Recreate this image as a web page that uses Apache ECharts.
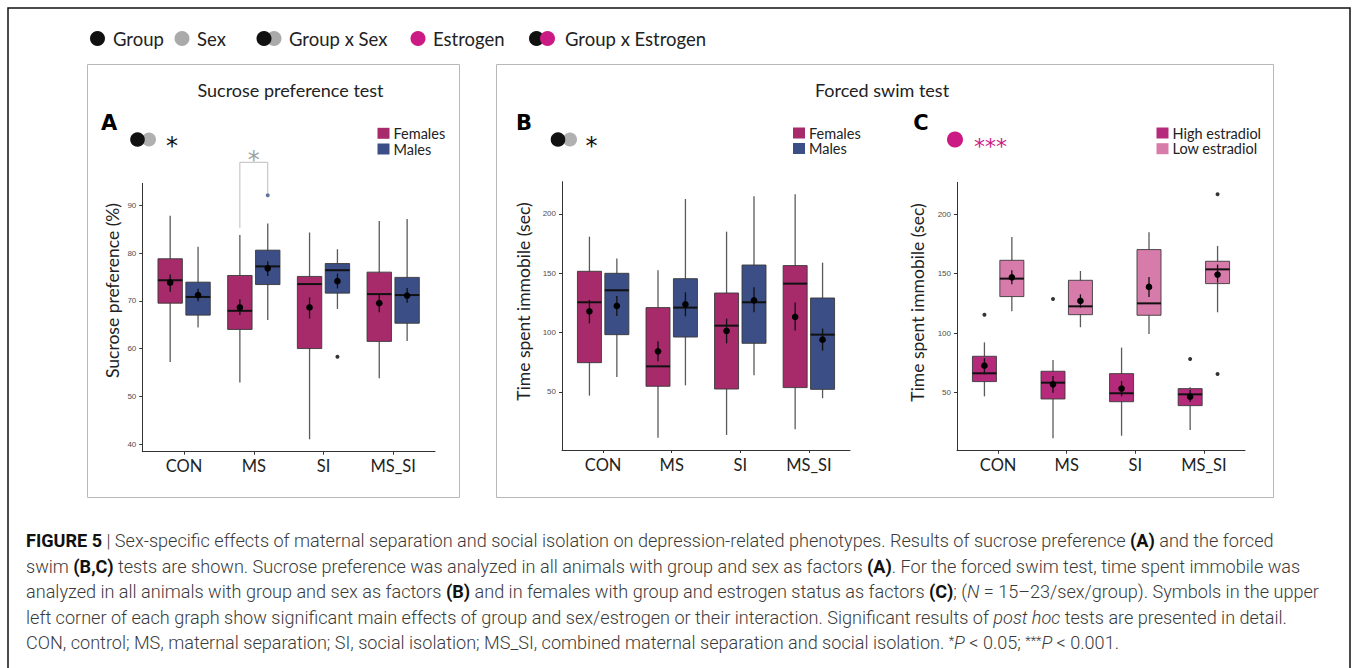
<!DOCTYPE html>
<html><head><meta charset="utf-8">
<script src="https://cdn.jsdelivr.net/npm/echarts@6/dist/echarts.min.js"></script>
<style>html,body{margin:0;padding:0;background:#fff;}#c{width:1354px;height:668px;}</style>
</head><body><div id="c"></div>
<script>
const categories = ['CON', 'MS', 'SI', 'MS_SI'];
const sucroseTicks = [40, 50, 60, 70, 80, 90];
const swimTicks = [50, 100, 150, 200];

// Box statistics: [lower whisker, Q1, median, Q3, upper whisker]
const sucroseFemales = [[57.2, 69.5, 74.3, 78.8, 87.8], [52.9, 64.0, 67.9, 75.3, 83.8], [41.0, 60.0, 73.5, 75.1, 84.3], [53.8, 61.5, 71.4, 76.0, 86.7]];
const sucroseMales   = [[64.4, 67.0, 70.8, 73.9, 81.3], [66.0, 73.4, 77.2, 80.6, 86.2], [68.3, 71.6, 76.4, 77.8, 80.8], [61.6, 65.3, 71.2, 74.9, 87.1]];
// Mean with error bar: [mean, lower, upper]
const sucroseFemalesMean = [[73.8, 71.9, 75.5], [68.6, 67.0, 70.3], [68.6, 66.3, 70.7], [69.5, 67.6, 71.4]];
const sucroseMalesMean   = [[71.2, 69.9, 72.5], [76.8, 75.2, 78.3], [74.1, 72.6, 75.7], [71.1, 69.6, 72.7]];
const sucroseMalesOutliers = [['MS', 92.1], ['SI', 58.3]];
// post hoc bracket MS females vs males: [left end, top, right end]
const sucroseBracket = [85.2, 99.0, 92.5];

const swimFemales = [[46.9, 74.7, 125.6, 151.7, 180.9], [11.5, 54.8, 71.6, 121.1, 152.5], [13.8, 52.5, 105.9, 133.4, 185.1], [18.5, 53.7, 141.3, 156.5, 216.6]];
const swimMales   = [[62.6, 98.3, 135.7, 150.0, 162.4], [55.6, 96.3, 121.1, 145.5, 212.6], [64.0, 91.0, 125.6, 157.0, 214.9], [44.7, 52.2, 98.3, 129.2, 159.0]];
const swimFemalesMean = [[118.0, 107.9, 127.5], [84.3, 75.8, 92.7], [101.4, 91.0, 111.8], [113.2, 101.7, 125.3]];
const swimMalesMean   = [[122.5, 114.0, 130.9], [123.9, 113.8, 134.0], [127.2, 117.1, 138.2], [94.1, 84.8, 103.4]];

const swimHigh = [[46.9, 59.3, 66.3, 80.6, 92.3], [11.6, 44.7, 58.4, 68.0, 77.5], [13.8, 42.4, 49.5, 66.0, 87.9], [18.6, 39.1, 48.6, 53.4, 54.5]];
const swimLow  = [[118.4, 130.8, 145.9, 161.3, 180.9], [105.0, 115.6, 122.6, 144.5, 152.3], [99.4, 115.1, 125.1, 170.3, 184.9], [117.6, 141.7, 153.7, 160.5, 173.4]];
const swimHighMean = [[72.7, 65.5, 79.0], [57.0, 50.0, 64.0], [53.4, 46.9, 59.8], [46.6, 42.3, 52.3]];
const swimLowMean  = [[147.0, 141.1, 152.9], [127.1, 121.5, 132.7], [138.9, 130.5, 147.3], [149.3, 142.5, 157.7]];
const swimHighOutliers = [['CON', 115.6], ['MS', 128.8], ['MS_SI', 78.3]];
const swimLowOutliers  = [['MS_SI', 216.8], ['MS_SI', 65.7]];

// ---------- styling ----------
const FEMALE = '#A72A6B', MALE = '#3B4E86', HIGH = '#B52A7A', LOW = '#D77CAA', ESTRO = '#CC1A85';
const DODGE = 0.2, BOX_W = 0.35;
const UI = 'Lato, "Open Sans", sans-serif';
const STAR = '"DejaVu Sans", sans-serif';

function boxData(arr, off) { return arr.map((s, i) => [i + 1 + off].concat(s)); }
function meanData(arr, off) { return arr.map((s, i) => [i + 1 + off].concat(s)); }
function outData(arr, off) { return arr.map(o => [categories.indexOf(o[0]) + 1 + off, o[1]]); }

function boxRender(color) {
  return function (params, api) {
    const x = api.value(0);
    const lo = api.coord([x, api.value(1)]);
    const q1 = api.coord([x, api.value(2)]);
    const md = api.coord([x, api.value(3)]);
    const q3 = api.coord([x, api.value(4)]);
    const hi = api.coord([x, api.value(5)]);
    const w = api.size([BOX_W, 0])[0];
    const cx = lo[0];
    return { type: 'group', children: [
      { type: 'line', shape: { x1: cx, y1: lo[1], x2: cx, y2: hi[1] }, style: { stroke: '#5a5a5a', lineWidth: 1.3 } },
      { type: 'rect', shape: { x: cx - w / 2, y: q3[1], width: w, height: q1[1] - q3[1] }, style: { fill: color, stroke: '#3a3a3a', lineWidth: 0.9 } },
      { type: 'line', shape: { x1: cx - w / 2, y1: md[1], x2: cx + w / 2, y2: md[1] }, style: { stroke: '#111', lineWidth: 2 } }
    ]};
  };
}
function meanRender(params, api) {
  const x = api.value(0);
  const m = api.coord([x, api.value(1)]);
  const l = api.coord([x, api.value(2)]);
  const h = api.coord([x, api.value(3)]);
  return { type: 'group', children: [
    { type: 'line', shape: { x1: m[0], y1: l[1], x2: m[0], y2: h[1] }, style: { stroke: '#111', lineWidth: 1.3 } },
    { type: 'circle', shape: { cx: m[0], cy: m[1], r: 3.3 }, style: { fill: '#000' } }
  ]};
}
function bracketRender(params, api) {
  const x1 = api.value(0), x2 = api.value(1);
  const a = api.coord([x1, api.value(2)]);
  const t1 = api.coord([x1, api.value(3)]);
  const t2 = api.coord([x2, api.value(3)]);
  const b = api.coord([x2, api.value(4)]);
  return { type: 'group', children: [
    { type: 'polyline', shape: { points: [a, t1, t2, b] }, style: { stroke: '#bdbdbd', lineWidth: 1, fill: 'none' } },
    { type: 'text', x: (t1[0] + t2[0]) / 2, y: t1[1] - 2, style: { text: '*', fill: '#a0a0a0', fontSize: 24, fontFamily: STAR, align: 'center', verticalAlign: 'middle' } }
  ]};
}

function xAxis(gi) {
  return { gridIndex: gi, type: 'value', min: 0.4, max: 4.6,
    splitLine: { show: false },
    axisLine: { show: true, lineStyle: { color: '#333', width: 1 } },
    axisTick: { show: true, customValues: [1, 2, 3, 4], length: 3, lineStyle: { color: '#333' } },
    axisLabel: { show: true, customValues: [1, 2, 3, 4], formatter: v => categories[Math.round(v) - 1], fontSize: 16.5, color: '#222', margin: 6, fontFamily: UI } };
}
function yAxis(gi, min, max, ticks) {
  return { gridIndex: gi, type: 'value', min: min, max: max,
    splitLine: { show: false },
    axisLine: { show: true, lineStyle: { color: '#333', width: 1 } },
    axisTick: { show: true, customValues: ticks, length: 3, lineStyle: { color: '#333' } },
    axisLabel: { show: true, customValues: ticks, fontSize: 8, color: '#4d4d4d', margin: 6, fontFamily: '"Liberation Sans", Arial, sans-serif' } };
}

function boxSeries(gi, arr, off, color) {
  return { type: 'custom', xAxisIndex: gi, yAxisIndex: gi, renderItem: boxRender(color), data: boxData(arr, off), encode: { x: 0, y: [1, 2, 3, 4, 5] }, z: 2, silent: true };
}
function meanSeries(gi, arr, off) {
  return { type: 'custom', xAxisIndex: gi, yAxisIndex: gi, renderItem: meanRender, data: meanData(arr, off), encode: { x: 0, y: [1, 2, 3] }, z: 4, silent: true };
}
function outSeries(gi, arr, off, colors) {
  return { type: 'scatter', xAxisIndex: gi, yAxisIndex: gi, symbolSize: 4, silent: true, z: 3,
    data: outData(arr, off).map((d, i) => ({ value: d, itemStyle: { color: colors[i] || '#000' } })) };
}

const series = [
  boxSeries(0, sucroseFemales, -DODGE, FEMALE), boxSeries(0, sucroseMales, DODGE, MALE),
  meanSeries(0, sucroseFemalesMean, -DODGE), meanSeries(0, sucroseMalesMean, DODGE),
  outSeries(0, sucroseMalesOutliers, DODGE, [MALE, '#000']),
  { type: 'custom', xAxisIndex: 0, yAxisIndex: 0, renderItem: bracketRender, clip: false, silent: true, z: 5,
    data: [[categories.indexOf('MS') + 1 - DODGE, categories.indexOf('MS') + 1 + DODGE].concat(sucroseBracket)], encode: { x: [0, 1], y: [2, 3, 4] } },
  boxSeries(1, swimFemales, -DODGE, FEMALE), boxSeries(1, swimMales, DODGE, MALE),
  meanSeries(1, swimFemalesMean, -DODGE), meanSeries(1, swimMalesMean, DODGE),
  boxSeries(2, swimHigh, -DODGE, HIGH), boxSeries(2, swimLow, DODGE, LOW),
  meanSeries(2, swimHighMean, -DODGE), meanSeries(2, swimLowMean, DODGE),
  outSeries(2, swimHighOutliers, -DODGE, []), outSeries(2, swimLowOutliers, DODGE, [])
];

// ---------- annotations ----------
function txt(x, y, text, size, opts) {
  return Object.assign({ type: 'text', x: x, y: y, silent: true,
    style: Object.assign({ text: text, fontSize: size, fontFamily: UI, fill: '#222', align: 'left', verticalAlign: 'middle' }, (opts && opts.style) || {}) },
    (opts && opts.el) || {});
}
function dot(x, y, r, color) { return { type: 'circle', shape: { cx: x, cy: y, r: r }, style: { fill: color }, silent: true }; }
function sw(x, y, color) { return { type: 'rect', shape: { x: x, y: y - 5.5, width: 12, height: 11 }, style: { fill: color }, silent: true }; }

const graphics = [
  { type: 'rect', shape: { x: 8, y: 8, width: 1342, height: 700 }, style: { fill: 'none', stroke: '#111', lineWidth: 1.5 }, silent: true },
  { type: 'rect', shape: { x: 87.5, y: 64.5, width: 372, height: 433 }, style: { fill: 'none', stroke: '#b8b8b8', lineWidth: 1 }, silent: true },
  { type: 'rect', shape: { x: 496.5, y: 64.5, width: 777, height: 433 }, style: { fill: 'none', stroke: '#b8b8b8', lineWidth: 1 }, silent: true },
  // top legend
  dot(97.5, 38.5, 7.5, '#111'), txt(113, 39, 'Group', 18.5),
  dot(182, 38.5, 7.5, '#aaaaaa'), txt(197, 39, 'Sex', 18.5),
  dot(274, 38.5, 7.5, '#aaaaaa'), dot(264, 38.5, 7.5, '#111'), txt(289, 39, 'Group x Sex', 18.5),
  dot(418, 38.5, 7.5, ESTRO), txt(433, 39, 'Estrogen', 18.5),
  dot(536.5, 38.5, 7.5, '#111'), dot(547.5, 38.5, 7.5, ESTRO), txt(565, 39, 'Group x Estrogen', 18.5),
  // titles
  txt(290.5, 90, 'Sucrose preference test', 18, { style: { align: 'center' } }),
  txt(882, 90, 'Forced swim test', 18, { style: { align: 'center' } }),
  // panel letters
  txt(109, 122.5, 'A', 21, { style: { align: 'center', fontWeight: 900, fontFamily: '"DejaVu Sans", Arial, sans-serif', fill: '#000' } }),
  txt(524, 122.5, 'B', 21, { style: { align: 'center', fontWeight: 900, fontFamily: '"DejaVu Sans", Arial, sans-serif', fill: '#000' } }),
  txt(921, 122.5, 'C', 21, { style: { align: 'center', fontWeight: 900, fontFamily: '"DejaVu Sans", Arial, sans-serif', fill: '#000' } }),
  // significance symbols
  dot(149, 139.5, 7, '#b0b0b0'), dot(137.5, 139.5, 7.3, '#111'), txt(172, 146, '*', 24, { style: { align: 'center', fill: '#111', fontFamily: STAR } }),
  dot(570, 139.5, 7, '#b0b0b0'), dot(558, 139.5, 7.3, '#111'), txt(591.5, 146, '*', 24, { style: { align: 'center', fill: '#111', fontFamily: STAR } }),
  dot(955, 139.5, 8, ESTRO), txt(990.5, 146, '***', 22, { style: { align: 'center', fill: ESTRO, fontFamily: STAR } }),
  // panel legends
  sw(377.5, 133.3, FEMALE), txt(393.5, 133.3, 'Females', 14.5),
  sw(377.5, 149, MALE), txt(393.5, 149, 'Males', 14.5),
  sw(793, 133, FEMALE), txt(809, 133, 'Females', 14.5),
  sw(793, 148.5, MALE), txt(809, 148.5, 'Males', 14.5),
  sw(1156.5, 133, HIGH), txt(1172.5, 133, 'High estradiol', 14.5),
  sw(1156.5, 148.7, LOW), txt(1172.5, 148.7, 'Low estradiol', 14.5),
  // y axis titles
  txt(112.5, 290.5, 'Sucrose preference (%)', 17.5, { style: { align: 'center' }, el: { rotation: Math.PI / 2 } }),
  txt(523.5, 301.5, 'Time spent immobile (sec)', 17.5, { style: { align: 'center' }, el: { rotation: Math.PI / 2 } }),
  txt(917, 302.5, 'Time spent immobile (sec)', 17.5, { style: { align: 'center' }, el: { rotation: Math.PI / 2 } })
];

// ---------- caption ----------
const CAP_FONT = 'Roboto, "Liberation Sans", Arial, sans-serif';
const capLines = [
  '{b|FIGURE 5} | Sex-specific effects of maternal separation and social isolation on depression-related phenotypes. Results of sucrose preference {b|(A)} and the forced',
  'swim {b|(B,C)} tests are shown. Sucrose preference was analyzed in all animals with group and sex as factors {b|(A)}. For the forced swim test, time spent immobile was',
  'analyzed in all animals with group and sex as factors {b|(B)} and in females with group and estrogen status as factors {b|(C)}; ({i|N} = 15–23/sex/group). Symbols in the upper',
  'left corner of each graph show significant main effects of group and sex/estrogen or their interaction. Significant results of {i|post hoc} tests are presented in detail.',
  'CON, control; MS, maternal separation; SI, social isolation; MS_SI, combined maternal separation and social isolation. {s|*}{i|P} < 0.05; {s|***}{i|P} < 0.001.'
];
const capY = [540, 566, 591.5, 617, 642.5];
const capEnd = [1314, 1320, 1334, 1294, 1171];
const CAP_X = 26;
const ctx = document.createElement('canvas').getContext('2d');
function measureLine(line, size) {
  let w = 0;
  const re = /\{([a-z])\|([^}]*)\}|([^{]+)/g;
  let m;
  while ((m = re.exec(line))) {
    let font;
    if (m[3] !== undefined) font = '300 ' + size + 'px ' + CAP_FONT;
    else if (m[1] === 'b') font = 'bold ' + size + 'px ' + CAP_FONT;
    else if (m[1] === 'i') font = 'italic 300 ' + size + 'px ' + CAP_FONT;
    else font = '300 ' + (size * 0.7) + 'px ' + CAP_FONT;
    ctx.font = font;
    w += ctx.measureText(m[3] !== undefined ? m[3] : m[2]).width;
  }
  return w;
}
let capSize = 40;
capLines.forEach((line, k) => {
  const s = 16 * (capEnd[k] - CAP_X) / measureLine(line, 16);
  capSize = Math.min(capSize, s);
});
capSize = Math.max(12, Math.min(19, capSize * 0.995));
capLines.forEach((line, k) => {
  graphics.push({ type: 'text', x: CAP_X, y: capY[k], silent: true, style: {
    text: line, fontSize: capSize, fontFamily: CAP_FONT, fontWeight: 300, fill: '#3a3a3a', verticalAlign: 'middle', align: 'left',
    rich: {
      b: { fontSize: capSize, fontFamily: CAP_FONT, fontWeight: 'bold', fill: '#111' },
      i: { fontSize: capSize, fontFamily: CAP_FONT, fontWeight: 300, fontStyle: 'italic', fill: '#3a3a3a' },
      s: { fontSize: capSize * 0.7, fontFamily: CAP_FONT, fontWeight: 300, fill: '#3a3a3a', verticalAlign: 'top' }
    } } });
});

const chart = echarts.init(document.getElementById('c'), null, { renderer: 'svg' });
chart.setOption({
  animation: false,
  grid: [
    { left: 142.3, top: 183.3, width: 292.7, height: 268.4, containLabel: false, outerBoundsMode: 'none' },
    { left: 562, top: 181.7, width: 288, height: 268.3, containLabel: false, outerBoundsMode: 'none' },
    { left: 957, top: 182.3, width: 288, height: 268.4, containLabel: false, outerBoundsMode: 'none' }
  ],
  xAxis: [xAxis(0), xAxis(1), xAxis(2)],
  yAxis: [yAxis(0, 38.4, 94.6, sucroseTicks), yAxis(1, 1.1, 227.2, swimTicks), yAxis(2, 1.2, 226.9, swimTicks)],
  series: series,
  graphic: graphics
});
</script>
</body></html>
